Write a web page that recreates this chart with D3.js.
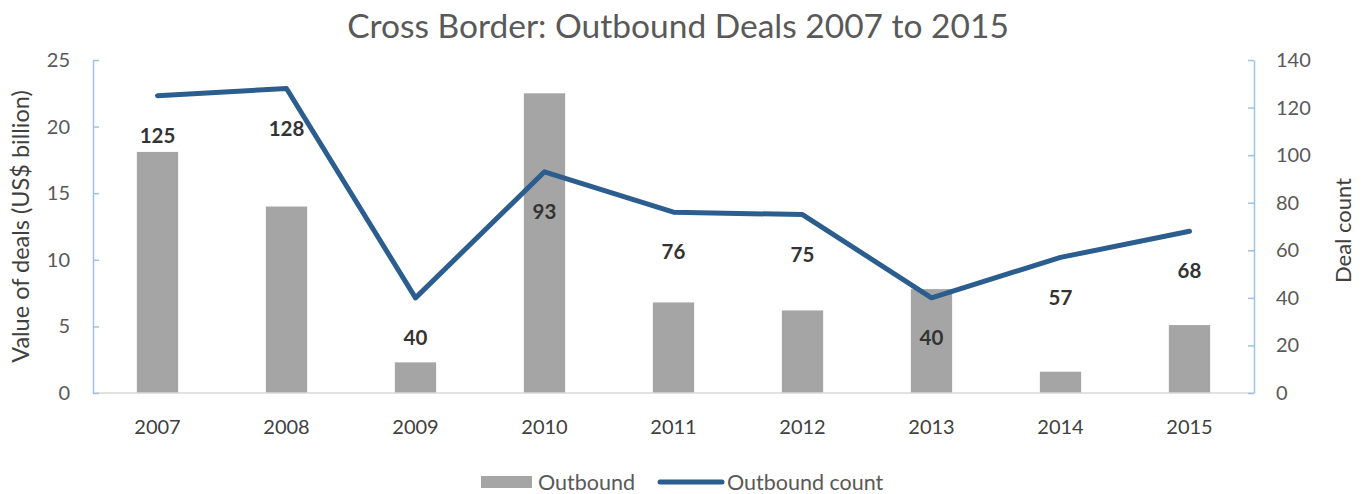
<!doctype html>
<html>
    <head>
        <title>Cross Border: Outbound Deals</title>
        <style>
            body {
                margin: 0;
                overflow: hidden;
                background: #fff;
            }
            text {
                font-family: Lato, "Open Sans", sans-serif;
            }
        </style>
    </head>
    <body>
        <script src="https://cdn.jsdelivr.net/npm/d3@7"></script>
        <script>

            const years = ['2007', '2008', '2009', '2010', '2011', '2012', '2013', '2014', '2015'];
            const outboundValue = [18.1, 14.0, 2.3, 22.5, 6.8, 6.2, 7.8, 1.6, 5.1];
            const outboundCount = [125, 128, 40, 93, 76, 75, 40, 57, 68];
            const leftTicks = [0, 5, 10, 15, 20, 25];
            const rightTicks = [0, 20, 40, 60, 80, 100, 120, 140];

            const width = 1363;
            const height = 494;
            const margin = { top: 60, right: 109, bottom: 101, left: 93 };

            const svg = d3.select('body')
                .append('svg')
                .attr('width', width)
                .attr('height', height);

            const x = d3.scaleBand()
                .domain(years)
                .range([margin.left, width - margin.right]);

            const yLeft = d3.scaleLinear()
                .domain([0, 25])
                .range([height - margin.bottom, margin.top]);

            const yRight = d3.scaleLinear()
                .domain([0, 140])
                .range([height - margin.bottom, margin.top]);

            // title
            svg.append('text')
                .attr('x', 678)
                .attr('y', 38)
                .attr('text-anchor', 'middle')
                .attr('font-size', 33.5)
                .attr('fill', '#595959')
                .text('Cross Border: Outbound Deals 2007 to 2015');

            // bars
            const barW = x.bandwidth() * 0.32;
            svg.selectAll('rect.bar')
                .data(outboundValue)
                .join('rect')
                .attr('class', 'bar')
                .attr('x', (d, i) => x(years[i]) + x.bandwidth() / 2 - barW / 2)
                .attr('y', (d) => yLeft(d))
                .attr('width', barW)
                .attr('height', (d) => yLeft(0) - yLeft(d))
                .attr('fill', '#a5a5a5');

            // baseline
            svg.append('line')
                .attr('x1', margin.left)
                .attr('x2', width - margin.right)
                .attr('y1', yLeft(0))
                .attr('y2', yLeft(0))
                .attr('stroke', '#d9d9d9')
                .attr('stroke-width', 1.5);

            // left axis
            const leftAxis = svg.append('g')
                .attr('transform', `translate(${margin.left},0)`)
                .call(d3.axisRight(yLeft).tickValues(leftTicks).tickSize(6).tickSizeOuter(0).tickFormat(''));
            leftAxis.selectAll('line, path').attr('stroke', '#9dc3e6').attr('stroke-width', 1.5);

            svg.selectAll('text.lt')
                .data(leftTicks)
                .join('text')
                .attr('class', 'lt')
                .attr('x', 70)
                .attr('y', (d) => yLeft(d))
                .attr('dy', '0.35em')
                .attr('text-anchor', 'end')
                .attr('font-size', 20)
                .attr('fill', '#595959')
                .text((d) => d);

            // right axis
            const rightAxis = svg.append('g')
                .attr('transform', `translate(${width - margin.right},0)`)
                .call(d3.axisLeft(yRight).tickValues(rightTicks).tickSize(6).tickSizeOuter(0).tickFormat(''));
            rightAxis.selectAll('line, path').attr('stroke', '#9dc3e6').attr('stroke-width', 1.5);

            svg.selectAll('text.rt')
                .data(rightTicks)
                .join('text')
                .attr('class', 'rt')
                .attr('x', 1276)
                .attr('y', (d) => yRight(d))
                .attr('dy', '0.35em')
                .attr('text-anchor', 'start')
                .attr('font-size', 20)
                .attr('fill', '#595959')
                .text((d) => d);

            // x labels
            svg.selectAll('text.xl')
                .data(years)
                .join('text')
                .attr('class', 'xl')
                .attr('x', (d) => x(d) + x.bandwidth() / 2)
                .attr('y', 434)
                .attr('text-anchor', 'middle')
                .attr('font-size', 20)
                .attr('fill', '#404040')
                .text((d) => d);

            // axis titles
            svg.append('text')
                .attr('transform', `translate(29,${(margin.top + height - margin.bottom) / 2}) rotate(-90)`)
                .attr('text-anchor', 'middle')
                .attr('font-size', 23.5)
                .attr('fill', '#404040')
                .text('Value of deals (US$ billion)');

            svg.append('text')
                .attr('transform', `translate(1351,${(margin.top + height - margin.bottom) / 2 + 4}) rotate(-90)`)
                .attr('text-anchor', 'middle')
                .attr('font-size', 22)
                .attr('fill', '#404040')
                .text('Deal count');

            // line
            const line = d3.line()
                .x((d, i) => x(years[i]) + x.bandwidth() / 2)
                .y((d) => yRight(d));

            svg.append('path')
                .datum(outboundCount)
                .attr('d', line)
                .attr('fill', 'none')
                .attr('stroke', '#2b5d8e')
                .attr('stroke-width', 5)
                .attr('stroke-linecap', 'round')
                .attr('stroke-linejoin', 'round');

            // data labels
            svg.selectAll('text.dl')
                .data(outboundCount)
                .join('text')
                .attr('class', 'dl')
                .attr('x', (d, i) => x(years[i]) + x.bandwidth() / 2)
                .attr('y', (d) => yRight(d) + 40)
                .attr('dy', '0.35em')
                .attr('text-anchor', 'middle')
                .attr('font-size', 20.5)
                .attr('font-weight', 'bold')
                .attr('fill', '#333')
                .text((d) => d);

            // legend
            const legend = svg.append('g');
            legend.append('rect')
                .attr('x', 481)
                .attr('y', 476)
                .attr('width', 51)
                .attr('height', 12)
                .attr('fill', '#a5a5a5');
            legend.append('text')
                .attr('x', 538)
                .attr('y', 482)
                .attr('dy', '0.35em')
                .attr('font-size', 21.5)
                .attr('fill', '#595959')
                .text('Outbound');
            legend.append('line')
                .attr('x1', 660)
                .attr('x2', 722)
                .attr('y1', 482)
                .attr('y2', 482)
                .attr('stroke', '#2b5d8e')
                .attr('stroke-width', 5)
                .attr('stroke-linecap', 'round');
            legend.append('text')
                .attr('x', 727)
                .attr('y', 482)
                .attr('dy', '0.35em')
                .attr('font-size', 21.5)
                .attr('fill', '#595959')
                .text('Outbound count');

        </script>
    </body>
</html>
